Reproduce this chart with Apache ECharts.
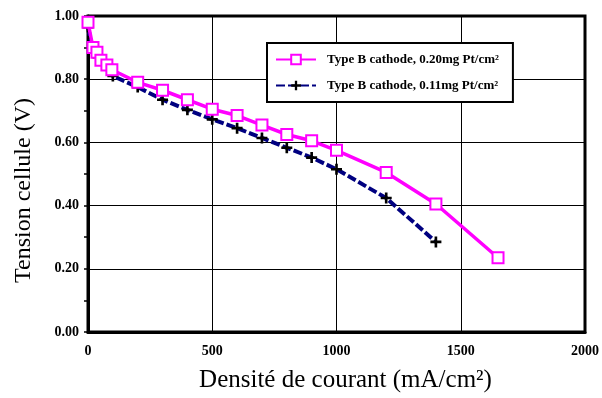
<!DOCTYPE html>
<html>
<head>
<meta charset="utf-8">
<script src="https://cdn.jsdelivr.net/npm/echarts@6/dist/echarts.min.js"></script>
<style>
html, body { margin: 0; padding: 0; background: #fff; }
#chart01 { width: 602px; height: 398px; }
</style>
</head>
<body>
<div id="chart01"></div>
<script>
var xPink = [0, 20, 36, 52, 76, 96, 200, 300, 400, 500, 600, 700, 800, 900, 1000, 1200, 1400, 1650];
var yPink = [0.98, 0.90, 0.885, 0.86, 0.845, 0.83, 0.79, 0.765, 0.735, 0.705, 0.685, 0.655, 0.625, 0.605, 0.575, 0.505, 0.405, 0.235];
var xBlack = [0, 20, 40, 60, 80, 100, 200, 300, 400, 500, 600, 700, 800, 900, 1000, 1200, 1400];
var yBlack = [0.965, 0.89, 0.87, 0.85, 0.83, 0.81, 0.775, 0.735, 0.703, 0.673, 0.645, 0.614, 0.583, 0.552, 0.515, 0.424, 0.285];
var nameA = 'Type B cathode, 0.20mg Pt/cm²';
var nameB = 'Type B cathode, 0.11mg Pt/cm²';
var xTitle = 'Densité de courant (mA/cm²)';
var yTitle = 'Tension cellule (V)';

var chart01 = echarts.init(document.getElementById("chart01"), null, {renderer: 'canvas'});

function pairs(xs, ys) {
    var out = [];
    for (var i = 0; i < xs.length; i++) {
        out.push([xs[i], ys[i]]);
    }
    return out;
}

var font = 'Liberation Serif';
var plus = 'path://M3.8,0H6.2V3.8H10V6.2H6.2V10H3.8V6.2H0V3.8H3.8Z';

var option = {
    animation: false,
    textStyle: {fontFamily: font},
    grid: {
        left: 88,
        right: 15,
        top: 16,
        bottom: 59,
        show: true,
        borderColor: '#000',
        borderWidth: 3
    },
    graphic: [{
        type: 'text',
        left: 12,
        top: 98,
        rotation: Math.PI / 2,
        style: {text: yTitle, fontFamily: font, fontSize: 24, fill: '#000'}
    }],
    legend: {
        orient: 'vertical',
        left: 267,
        top: 43,
        padding: [10, 14, 10, 8],
        itemWidth: 40,
        itemHeight: 12,
        itemGap: 13,
        backgroundColor: '#fff',
        borderColor: '#000',
        borderWidth: 2,
        textStyle: {fontFamily: font, fontWeight: 'bold', fontSize: 13, color: '#000', padding: [0, 0, 0, 6]},
        data: [nameA, nameB]
    },
    xAxis: {
        type: 'value',
        min: 0,
        max: 2000,
        interval: 500,
        name: xTitle,
        nameLocation: 'middle',
        nameGap: 36,
        nameTextStyle: {fontFamily: font, fontSize: 25, color: '#000', padding: [0, 0, 0, 18]},
        axisLine: {show: true, lineStyle: {color: '#000', width: 3}},
        axisTick: {show: false},
        axisLabel: {
            fontFamily: font, fontWeight: 'bold', fontSize: 14, color: '#000', margin: 12,
            formatter: function (v) { return String(v); }
        },
        splitLine: {show: true, lineStyle: {color: '#000', width: 1}}
    },
    yAxis: {
        type: 'value',
        min: 0,
        max: 1,
        interval: 0.2,
        axisLine: {show: true, lineStyle: {color: '#000', width: 3}},
        axisTick: {show: true, length: 4, lineStyle: {color: '#000', width: 1.5}},
        minorTick: {show: true, splitNumber: 2, length: 4, lineStyle: {color: '#000', width: 1.5}},
        axisLabel: {
            fontFamily: font, fontWeight: 'bold', fontSize: 14, color: '#000', margin: 9,
            formatter: function (v) { return v.toFixed(2); }
        },
        splitLine: {show: true, lineStyle: {color: '#000', width: 1}}
    },
    series: [
        {
            name: nameB,
            type: 'line',
            z: 2,
            data: pairs(xBlack, yBlack),
            symbol: plus,
            symbolSize: 11,
            itemStyle: {color: '#000'},
            lineStyle: {color: '#000080', width: 4, type: [9, 3]}
        },
        {
            name: nameA,
            type: 'line',
            z: 3,
            data: pairs(xPink, yPink),
            symbol: 'rect',
            symbolSize: 11,
            itemStyle: {color: '#fff', borderColor: '#ff00ff', borderWidth: 2},
            lineStyle: {color: '#ff00ff', width: 3.5}
        }
    ]
};

if (option && typeof option === "object") {
    chart01.setOption(option, true);
}
</script>
</body>
</html>
